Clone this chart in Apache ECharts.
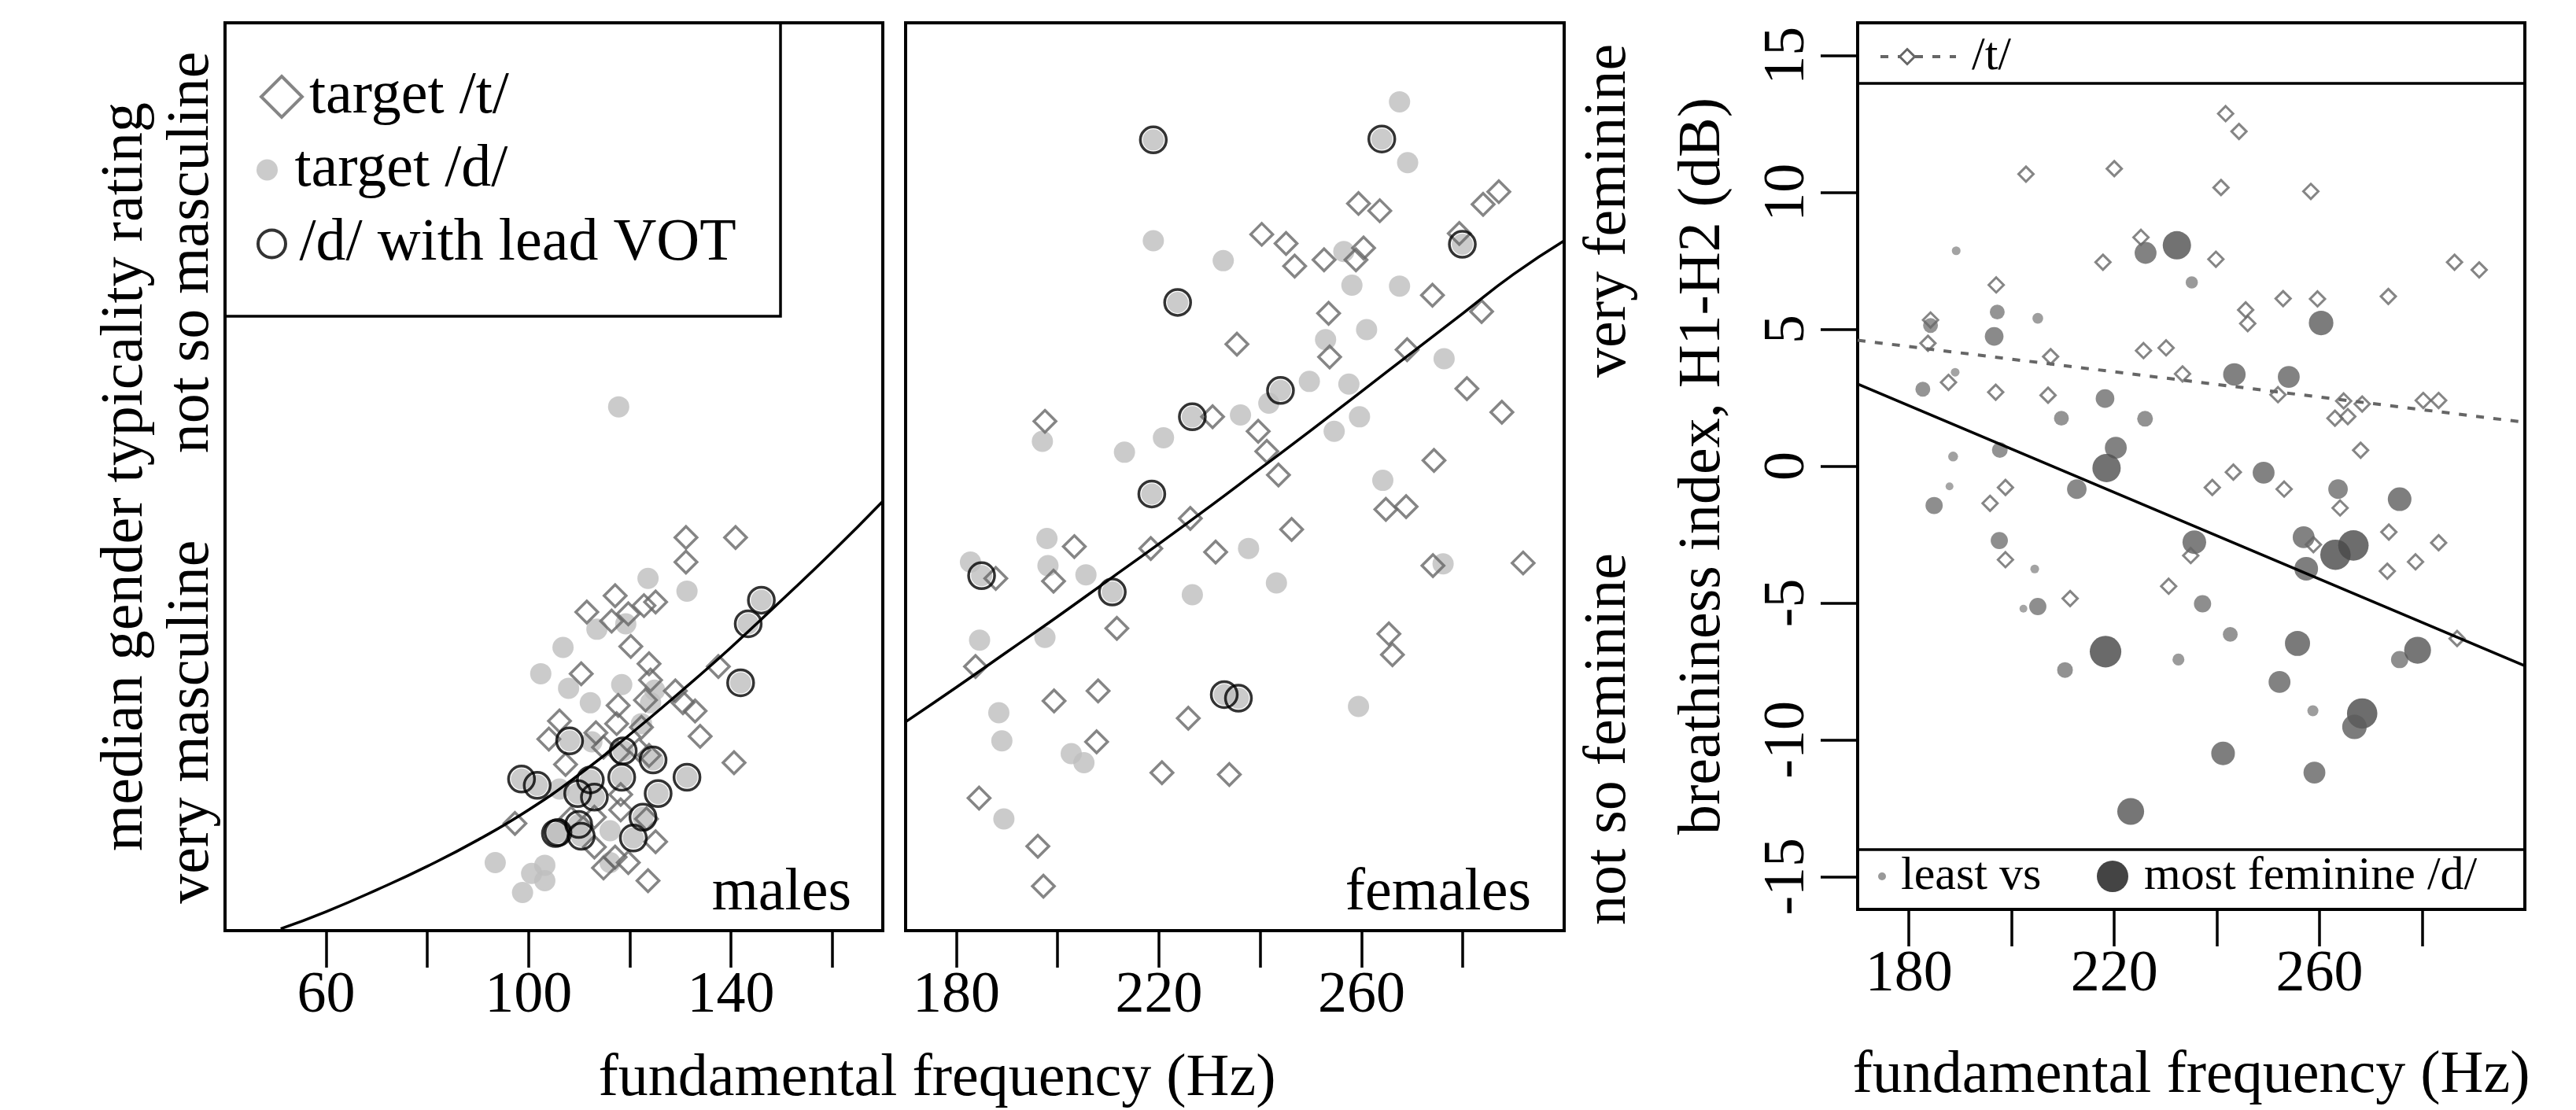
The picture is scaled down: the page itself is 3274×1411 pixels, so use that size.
<!DOCTYPE html>
<html>
<head>
<meta charset="utf-8">
<title>Gender typicality and breathiness by f0</title>
<script src="https://cdn.jsdelivr.net/npm/echarts@6/dist/echarts.min.js"></script>
<style>
  html, body { margin: 0; padding: 0; background: #fff; }
  #chart { width: 3274px; height: 1411px; }
</style>
</head>
<body>
<div id="chart"></div>
<script>
// ---- values ----
// males: f0 (Hz) and median gender typicality rating (0 = bottom, 100 = top of panel)
const maleTF0 = [131.1, 140.9, 131.1, 117.1, 122.8, 125.1, 111.5, 116.4, 119.7, 120.2, 123.8, 110.4, 137.5, 124.1, 117.7, 123.1, 129.0, 130.5, 132.9, 106.1, 104.0, 113.3, 117.4, 122.3, 133.9, 140.6, 107.3, 114.8, 117.7, 121.8, 123.8, 118.2, 118.2, 108.4, 113.0, 97.3, 123.3, 125.1, 113.0, 114.8, 119.7, 123.6, 117.1];
const maleTRating = [43.3, 43.3, 40.6, 36.9, 35.8, 36.2, 35.1, 34.1, 34.9, 31.3, 29.4, 28.3, 29.1, 27.6, 24.8, 25.4, 26.4, 25.1, 24.2, 23.1, 21.1, 21.8, 22.8, 22.4, 21.4, 18.5, 18.3, 20.2, 19.6, 19.9, 19.3, 15.0, 13.3, 12.4, 12.5, 11.8, 12.3, 9.8, 9.2, 6.9, 7.5, 5.5, 8.1];
const maleDF0 = [123.6, 131.3, 113.5, 119.2, 106.8, 102.4, 107.9, 118.4, 112.2, 124.9, 124.1, 122.3, 106.1, 116.1, 93.4, 103.2, 100.6, 103.2, 98.8, 116.1, 112.5, 117.8];
const maleDRating = [38.8, 37.4, 33.2, 33.8, 31.2, 28.3, 26.7, 27.1, 25.1, 26.5, 25.1, 22.8, 15.6, 11.0, 7.5, 7.2, 6.3, 5.5, 4.2, 7.5, 20.8, 57.7];
const maleVotF0 = [146.0, 143.4, 141.9, 108.1, 118.7, 124.6, 98.6, 101.7, 112.2, 118.4, 131.3, 125.6, 109.7, 113.0, 122.6, 109.9, 105.8, 110.4, 120.7, 105.3];
const maleVotRating = [36.4, 33.8, 27.3, 20.9, 19.8, 18.8, 16.7, 16.0, 16.6, 16.9, 16.9, 15.1, 15.1, 14.7, 12.5, 11.7, 10.8, 10.4, 10.2, 10.7];
const maleFitF0 = [51, 60, 70, 80, 90, 100, 110, 120, 130, 140, 150, 160, 170];
const maleFitRating = [0.2, 2.1, 4.5, 7.1, 10.0, 13.3, 17.2, 21.6, 26.3, 31.2, 36.4, 41.7, 47.3];

// females
const femTF0 = [259.4, 263.6, 284.0, 287.1, 279.3, 240.3, 245.1, 246.8, 252.6, 258.9, 260.4, 274.0, 253.5, 283.7, 235.4, 253.7, 269.0, 280.8, 287.7, 197.5, 230.6, 239.6, 241.3, 274.3, 243.6, 226.2, 203.3, 218.4, 231.2, 246.2, 264.8, 268.8, 274.1, 291.9, 187.8, 199.2, 211.7, 265.4, 266.1, 183.8, 199.3, 208.0, 225.8, 207.7, 220.6, 233.9, 184.5, 196.1, 197.2];
const femTRating = [80.1, 79.3, 80.0, 81.4, 76.8, 76.7, 75.7, 73.2, 73.9, 73.9, 75.2, 70.0, 68.0, 68.2, 64.6, 63.2, 64.0, 59.7, 57.1, 56.1, 56.6, 55.0, 52.8, 51.8, 50.2, 45.4, 42.3, 42.1, 41.7, 44.2, 46.4, 46.7, 40.2, 40.5, 38.8, 38.5, 33.3, 32.7, 30.4, 29.1, 25.3, 26.4, 23.4, 20.8, 17.4, 17.2, 14.6, 9.3, 4.9];
const femDF0 = [267.5, 269.1, 218.9, 232.7, 256.5, 258.1, 267.5, 261.0, 252.9, 276.3, 249.7, 257.5, 241.7, 236.1, 220.9, 213.2, 197.0, 254.6, 259.6, 264.2, 197.9, 182.8, 198.1, 205.6, 237.7, 243.2, 226.6, 276.1, 184.6, 197.5, 188.4, 189.0, 202.7, 205.2, 259.4, 189.4];
const femDRating = [91.3, 84.6, 76.0, 73.8, 74.8, 71.1, 71.0, 66.2, 65.1, 63.0, 60.5, 60.2, 58.1, 56.8, 54.3, 52.7, 53.9, 55.0, 56.6, 49.6, 43.2, 40.6, 40.2, 39.2, 42.1, 38.3, 37.0, 40.4, 32.0, 32.3, 24.0, 20.9, 19.5, 18.5, 24.7, 12.3];
const femVotF0 = [218.9, 264.0, 279.9, 223.7, 244.0, 226.6, 218.6, 185.0, 210.8, 232.9, 235.7];
const femVotRating = [87.1, 87.2, 75.6, 69.2, 59.5, 56.6, 48.1, 39.1, 37.3, 26.0, 25.6];
const femFitF0 = [170, 180, 190, 200, 210, 220, 230, 240, 250, 260, 270, 280, 290, 300];
const femFitRating = [23.0, 26.8, 30.7, 34.6, 38.6, 42.6, 46.7, 50.9, 55.1, 59.4, 63.7, 68.0, 72.3, 76.0];

// breathiness (H1-H2, dB) of female tokens; /d/ dots carry their rating
const brTF0 = [241.7, 244.3, 202.8, 220.0, 240.8, 258.3, 225.2, 217.8, 239.8, 286.3, 291.1, 197.0, 252.9, 259.6, 273.4, 245.6, 246.0, 184.2, 183.7, 207.6, 225.7, 230.1, 233.3, 187.7, 196.9, 207.1, 251.9, 264.7, 268.3, 280.2, 283.2, 263.0, 265.5, 268.0, 243.2, 239.1, 253.1, 198.8, 195.8, 264.0, 273.5, 283.2, 278.7, 273.2, 258.8, 234.9, 198.8, 230.6, 211.4, 286.8];
const brTH1H2 = [12.88, 12.23, 10.67, 10.87, 10.18, 10.04, 8.36, 7.45, 7.56, 7.45, 7.17, 6.62, 6.12, 6.11, 6.20, 5.71, 5.21, 5.34, 4.49, 4.00, 4.22, 4.32, 3.37, 3.06, 2.70, 2.59, 2.61, 2.38, 2.27, 2.40, 2.40, 1.75, 1.81, 0.58, -0.22, -0.78, -0.84, -0.78, -1.36, -1.53, -2.41, -2.80, -3.50, -3.84, -2.87, -3.27, -3.42, -4.39, -4.84, -6.30];
const brDF0 = [189.2, 232.2, 226.1, 235.1, 197.2, 205.1, 184.2, 196.6, 260.3, 243.4, 254.0, 189.0, 182.7, 218.2, 209.7, 226.0, 197.7, 188.6, 220.3, 218.5, 249.1, 263.6, 212.7, 275.6, 187.9, 184.9, 197.6, 204.5, 205.1, 202.3, 235.6, 237.2, 242.6, 232.5, 256.9, 257.4, 263.1, 266.6, 255.7, 275.6, 279.1, 218.3, 210.4, 252.2, 258.7, 268.3, 266.8, 241.2, 259.0, 223.2];
const brDH1H2 = [7.87, 8.07, 7.79, 6.71, 5.63, 5.40, 5.14, 4.74, 5.23, 3.35, 3.26, 3.43, 2.81, 2.47, 1.75, 1.73, 0.59, 0.35, 0.67, -0.07, -0.24, -0.84, -0.84, -1.21, -0.74, -1.44, -2.72, -3.76, -5.13, -5.21, -2.78, -5.03, -6.15, -7.07, -2.60, -3.75, -3.24, -2.90, -6.48, -7.07, -6.73, -6.78, -7.45, -7.89, -8.94, -9.04, -9.53, -10.50, -11.20, -12.62];
const brDRating = [15, 82, 60, 27, 36, 22, 36, 49, 69, 62, 60, 15, 36, 49, 36, 39, 39, 19, 60, 82, 60, 52, 52, 66, 12, 44, 44, 15, 44, 12, 66, 44, 36, 26, 60, 66, 89, 89, 71, 44, 77, 93, 39, 60, 23, 89, 69, 66, 60, 77];
const brTFitF0 = [170, 300];
const brTFitH1H2 = [4.6, 1.6];
const brDFitF0 = [170, 300];
const brDFitH1H2 = [3.0, -7.3];

// axis ticks and side labels
const maleTicks = [60, 80, 100, 120, 140, 160];
const maleTickLabels = [60, 100, 140];
const femTicks = [180, 200, 220, 240, 260, 280];
const femTickLabels = [180, 220, 260];
const brYTicks = [-15, -10, -5, 0, 5, 10, 15];
const legendBoxEdges = [14, -14];
const maleSideAt = [23.0, 74.7];
const maleSideText = ['very masculine', 'not so masculine'];
const femSideAt = [21.1, 79.3];
const femSideText = ['not so feminine', 'very feminine'];

const FONT = "'Liberation Serif', 'DejaVu Serif', serif";
const zip = (xs, ys) => xs.map((x, i) => [x, ys[i]]);
const zip3 = (xs, ys, zs) => xs.map((x, i) => [x, ys[i], zs[i]]);

const tickStyle = { color: '#000', width: 3.5 };
const freqAxis = (gridIndex, min, max, ticks, labels, extra) => Object.assign({
    gridIndex: gridIndex,
    type: 'value',
    min: min,
    max: max,
    axisLine: { show: false, onZero: false },
    splitLine: { show: false },
    axisTick: { show: true, customValues: ticks, length: 47, lineStyle: tickStyle },
    axisLabel: { customValues: labels, margin: 47, fontSize: 74, color: '#000', fontFamily: FONT }
}, extra || {});

const diamondStyle = { color: 'rgba(255,255,255,0)', borderColor: '#666', borderWidth: 3.5 };
const ringStyle = { color: 'rgba(255,255,255,0)', borderColor: '#000', borderWidth: 3.5 };
const greyDot = { color: '#bebebe' };

const chart = echarts.init(document.getElementById('chart'));
chart.setOption({
    animation: false,
    backgroundColor: '#fff',
    textStyle: { fontFamily: FONT, color: '#000' },
    grid: [
        { left: 286, top: 29, width: 836, height: 1154, show: true, borderColor: '#000', borderWidth: 4 },
        { left: 1151, top: 29, width: 837, height: 1154, show: true, borderColor: '#000', borderWidth: 4 },
        { left: 2361, top: 29, width: 848, height: 1127, show: true, borderColor: '#000', borderWidth: 4 }
    ],
    xAxis: [
        freqAxis(0, 40, 170, maleTicks, maleTickLabels),
        freqAxis(1, 170, 300, femTicks, femTickLabels),
        freqAxis(2, 170, 300, femTicks, femTickLabels, {
            name: 'fundamental frequency (Hz)',
            nameLocation: 'middle',
            nameGap: 174,
            nameTextStyle: { fontSize: 76, color: '#000', fontFamily: FONT }
        })
    ],
    yAxis: [
        {
            gridIndex: 0, type: 'value', min: 0, max: 100,
            name: 'median gender typicality rating',
            nameLocation: 'middle',
            nameGap: 88,
            nameTextStyle: { fontSize: 76, color: '#000', fontFamily: FONT },
            axisLine: { show: false, onZero: false }, axisTick: { show: false }, splitLine: { show: false },
            axisLabel: {
                customValues: maleSideAt,
                formatter: v => maleSideText[maleSideAt.indexOf(v)],
                rotate: 90, margin: 4, align: 'center', verticalAlign: 'bottom',
                fontSize: 76, color: '#000', fontFamily: FONT
            }
        },
        {
            gridIndex: 1, type: 'value', min: 0, max: 100, position: 'right',
            axisLine: { show: false, onZero: false }, axisTick: { show: false }, splitLine: { show: false },
            axisLabel: {
                customValues: femSideAt,
                formatter: v => femSideText[femSideAt.indexOf(v)],
                rotate: 90, margin: 19, align: 'center', verticalAlign: 'top',
                fontSize: 76, color: '#000', fontFamily: FONT
            }
        },
        {
            gridIndex: 2, type: 'value', min: -16.2, max: 16.2,
            name: 'breathiness index, H1-H2 (dB)',
            nameLocation: 'middle',
            nameGap: 158,
            nameTextStyle: { fontSize: 76, color: '#000', fontFamily: FONT },
            axisLine: { show: false, onZero: false }, splitLine: { show: false },
            axisTick: { show: true, customValues: brYTicks, length: 47, lineStyle: tickStyle },
            axisLabel: {
                customValues: brYTicks, rotate: 90, margin: 51,
                align: 'center', verticalAlign: 'bottom',
                fontSize: 74, color: '#000', fontFamily: FONT
            }
        }
    ],
    legend: [
        {
            left: 330, top: 85, padding: 0, itemWidth: 52, itemHeight: 52, selectedMode: false,
            textStyle: { fontSize: 76, color: '#000', fontFamily: FONT, padding: [0, 0, 0, 4] },
            data: [{ name: 'target /t/', icon: 'diamond', itemStyle: { color: 'rgba(255,255,255,0)', borderColor: '#666', borderWidth: 4 } }]
        },
        {
            left: 326, top: 178, padding: 0, itemWidth: 60, itemHeight: 27, selectedMode: false,
            textStyle: { fontSize: 76, color: '#000', fontFamily: FONT },
            data: [{ name: 'target /d/', icon: 'circle', itemStyle: { color: '#bebebe', borderWidth: 0 } }]
        },
        {
            left: 326, top: 272, padding: 0, itemWidth: 60, itemHeight: 35, selectedMode: false,
            textStyle: { fontSize: 76, color: '#000', fontFamily: FONT },
            data: [{ name: '/d/ with lead VOT', icon: 'circle', itemStyle: { color: 'rgba(255,255,255,0)', borderColor: '#000', borderWidth: 4 } }]
        }
    ],
    visualMap: {
        show: false,
        type: 'continuous',
        seriesIndex: 8,
        dimension: 2,
        min: 0,
        max: 100,
        inRange: { symbolSize: [5.5, 42.7], color: ['#9a9a9a', '#3f3f3f'] }
    },
    series: [
        // grey /d/ dots (lead-VOT tokens included), drawn first
        { name: 'target /d/', type: 'scatter', xAxisIndex: 0, yAxisIndex: 0, symbol: 'circle', symbolSize: 27, itemStyle: greyDot,
          data: zip(maleDF0, maleDRating).concat(zip(maleVotF0, maleVotRating)) },
        { name: 'target /d/', type: 'scatter', xAxisIndex: 1, yAxisIndex: 1, symbol: 'circle', symbolSize: 27, itemStyle: greyDot,
          data: zip(femDF0, femDRating).concat(zip(femVotF0, femVotRating)) },
        // /t/ open diamonds
        { name: 'target /t/', type: 'scatter', xAxisIndex: 0, yAxisIndex: 0, symbol: 'diamond', symbolSize: 28, itemStyle: diamondStyle,
          data: zip(maleTF0, maleTRating) },
        { name: 'target /t/', type: 'scatter', xAxisIndex: 1, yAxisIndex: 1, symbol: 'diamond', symbolSize: 28, itemStyle: diamondStyle,
          data: zip(femTF0, femTRating) },
        // black rings for lead VOT
        { name: '/d/ with lead VOT', type: 'scatter', xAxisIndex: 0, yAxisIndex: 0, symbol: 'circle', symbolSize: 33, itemStyle: ringStyle,
          data: zip(maleVotF0, maleVotRating) },
        { name: '/d/ with lead VOT', type: 'scatter', xAxisIndex: 1, yAxisIndex: 1, symbol: 'circle', symbolSize: 33, itemStyle: ringStyle,
          data: zip(femVotF0, femVotRating) },
        // fitted curves
        { name: 'male fit', type: 'line', xAxisIndex: 0, yAxisIndex: 0, smooth: true, showSymbol: false,
          lineStyle: { color: '#000', width: 3.5 }, data: zip(maleFitF0, maleFitRating) },
        { name: 'female fit', type: 'line', xAxisIndex: 1, yAxisIndex: 1, smooth: true, showSymbol: false,
          lineStyle: { color: '#000', width: 3.5 }, data: zip(femFitF0, femFitRating) },
        // breathiness panel
        { name: 'breathiness /d/', type: 'scatter', xAxisIndex: 2, yAxisIndex: 2, symbol: 'circle',
          data: zip3(brDF0, brDH1H2, brDRating) },
        { name: 'breathiness /t/', type: 'scatter', xAxisIndex: 2, yAxisIndex: 2, symbol: 'diamond', symbolSize: 19,
          itemStyle: { color: 'rgba(255,255,255,0)', borderColor: '#666', borderWidth: 3 },
          data: zip(brTF0, brTH1H2) },
        { name: '/t/ fit', type: 'line', xAxisIndex: 2, yAxisIndex: 2, showSymbol: false,
          lineStyle: { color: '#666', width: 4, type: [10, 12] }, data: zip(brTFitF0, brTFitH1H2) },
        { name: '/d/ fit', type: 'line', xAxisIndex: 2, yAxisIndex: 2, showSymbol: false,
          lineStyle: { color: '#000', width: 3.5 }, data: zip(brDFitF0, brDFitH1H2),
          markLine: {
              silent: true, symbol: 'none', label: { show: false },
              lineStyle: { color: '#000', type: 'solid', width: 3.5 },
              data: legendBoxEdges.map(v => ({ yAxis: v }))
          } }
    ],
    graphic: [
        // legend box of the left panel
        { type: 'rect', shape: { x: 286, y: 29, width: 706, height: 373 }, style: { fill: 'none', stroke: '#000', lineWidth: 3.5 } },
        { type: 'text', x: 1082, y: 1136, style: { text: 'males', font: '76px ' + FONT, fill: '#000', align: 'right', verticalAlign: 'middle' } },
        { type: 'text', x: 1946, y: 1136, style: { text: 'females', font: '76px ' + FONT, fill: '#000', align: 'right', verticalAlign: 'middle' } },
        { type: 'text', x: 1191, y: 1372, style: { text: 'fundamental frequency (Hz)', font: '76px ' + FONT, fill: '#000', align: 'center', verticalAlign: 'middle' } },
        // right panel legends
        { type: 'line', shape: { x1: 2390, y1: 72, x2: 2486, y2: 72 }, style: { stroke: '#666', lineWidth: 4, lineDash: [10, 12] } },
        { type: 'polygon', shape: { points: [[2424, 62.5], [2433.5, 72], [2424, 81.5], [2414.5, 72]] }, style: { fill: '#fff', stroke: '#666', lineWidth: 3 } },
        { type: 'text', x: 2506, y: 72, style: { text: '/t/', font: '60px ' + FONT, fill: '#000', align: 'left', verticalAlign: 'middle' } },
        { type: 'circle', shape: { cx: 2392, cy: 1114, r: 5 }, style: { fill: '#999' } },
        { type: 'text', x: 2416, y: 1114, style: { text: 'least vs', font: '60px ' + FONT, fill: '#000', align: 'left', verticalAlign: 'middle' } },
        { type: 'circle', shape: { cx: 2685, cy: 1114, r: 20 }, style: { fill: '#444' } },
        { type: 'text', x: 2725, y: 1114, style: { text: 'most feminine /d/', font: '60px ' + FONT, fill: '#000', align: 'left', verticalAlign: 'middle' } }
    ]
});
</script>
</body>
</html>
